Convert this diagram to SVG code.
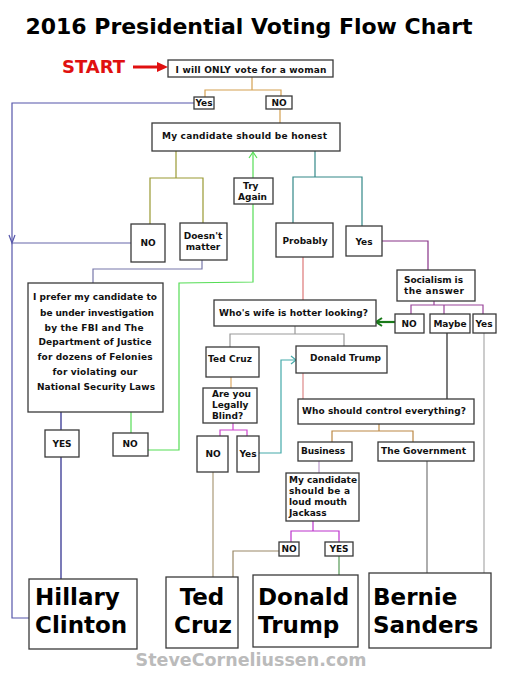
<svg xmlns="http://www.w3.org/2000/svg" width="506" height="673" viewBox="0 0 506 673">
<style>
.b{fill:#fff;stroke:#3a3a3a;stroke-width:1.3}
.t{font-family:"DejaVu Sans","Liberation Sans",sans-serif;font-weight:bold;font-size:9px;fill:#111}
.m{text-anchor:middle}
.big{font-family:"DejaVu Sans","Liberation Sans",sans-serif;font-weight:bold;font-size:23px;fill:#000}
.c line,.c polyline{fill:none;stroke-width:1.2}
</style>
<rect width="506" height="673" fill="#fff"/>
<text x="249" y="34" text-anchor="middle" font-family="DejaVu Sans, Liberation Sans, sans-serif" font-weight="bold" font-size="22" textLength="447" lengthAdjust="spacing" fill="#000">2016 Presidential Voting Flow Chart</text>
<g id="start">
<text x="62" y="73" font-family="DejaVu Sans, Liberation Sans, sans-serif" font-weight="bold" font-size="18" fill="#e01010">START</text>
</g>
<g class="c" id="connectors">
<line x1="133" y1="67" x2="160" y2="67" stroke="#e01010" style="stroke-width:3"/>
<polygon points="157,62 168,67 157,72" fill="#e01010"/>
<polyline points="252,77 252,90" stroke="#d4a050"/>
<polyline points="205,97 205,90 281,90 281,96" stroke="#d4a050"/>
<polyline points="280,109 280,123" stroke="#d4a050"/>
<polyline points="194,103 12,103 12,618 29,618" stroke="#5555aa"/>
<polyline points="9,235 12,243 15,235" stroke="#5555aa"/>
<polyline points="131,243 12,243" stroke="#6666aa"/>
<polyline points="176,151 176,178" stroke="#999933"/>
<polyline points="150,224 150,178 203,178 203,223" stroke="#999933"/>
<polyline points="202,260 202,269 93,269 93,283" stroke="#7777aa"/>
<polyline points="61,412 61,430" stroke="#222288"/>
<polyline points="61,457 61,579" stroke="#222288"/>
<polyline points="131,412 131,433" stroke="#55dd55"/>
<polyline points="148,450 179,450 179,283 253,282 253,204" stroke="#55dd55"/>
<polyline points="253,178 253,153" stroke="#55dd55"/>
<polyline points="249,158 253,152 257,158" stroke="#55dd55"/>
<polyline points="315,151 315,177" stroke="#338888"/>
<polyline points="293,223 293,177 362,177 362,226" stroke="#338888"/>
<polyline points="382,241 428,241 428,270" stroke="#883388"/>
<polyline points="434,301 434,305" stroke="#994499"/>
<polyline points="411,314 411,305 483,305 483,314" stroke="#994499"/>
<polyline points="444,305 444,314" stroke="#994499"/>
<line x1="395" y1="322" x2="377" y2="322" stroke="#1a7a1a" style="stroke-width:2.2"/>
<polyline points="382,318 376,322 382,326" stroke="#1a7a1a" style="stroke-width:2"/>
<polyline points="303,257 303,300" stroke="#dd7777"/>
<polyline points="295,326 295,334" stroke="#999"/>
<polyline points="230,347 230,334 344,334 344,346" stroke="#999"/>
<polyline points="231,377 231,388" stroke="#ddaa66"/>
<polyline points="233,423 233,430" stroke="#cc44cc"/>
<polyline points="220,436 220,430 247,430 247,436" stroke="#cc44cc"/>
<polyline points="259,453 281,453 281,360 295,360" stroke="#44aaaa"/>
<polyline points="291,356 296,360 291,364" stroke="#44aaaa"/>
<polyline points="303,373 303,399" stroke="#dd8888"/>
<polyline points="447,333 447,399" stroke="#222"/>
<polyline points="484,333 484,573" stroke="#aaa"/>
<polyline points="379,424 379,431" stroke="#bb8844"/>
<polyline points="332,442 332,431 413,431 413,442" stroke="#bb8844"/>
<polyline points="319,461 319,473" stroke="#bb99cc"/>
<polyline points="313,521 313,531" stroke="#bb33cc"/>
<polyline points="291,542 291,531 339,531 339,542" stroke="#bb33cc"/>
<polyline points="279,551 233,551 233,577" stroke="#998866"/>
<polyline points="339,556 339,575" stroke="#559955"/>
<polyline points="213,472 213,577" stroke="#aa9977"/>
<polyline points="427,461 427,573" stroke="#777"/>
</g>
<g id="q1"><rect class="b" x="168" y="60" width="165" height="17"/><text class="t m" x="251" y="73" textLength="151" lengthAdjust="spacing">I will ONLY vote for a woman</text></g>
<g id="yes1"><rect class="b" x="194" y="97" width="20" height="12"/><text class="t m" x="204" y="106">Yes</text></g>
<g id="no1"><rect class="b" x="266" y="96" width="26" height="13"/><text class="t m" x="279" y="106">NO</text></g>
<g id="honest"><rect class="b" x="152" y="123" width="188" height="28"/><text class="t" x="162" y="139" textLength="165" lengthAdjust="spacing">My candidate  should be honest</text></g>
<g id="no2"><rect class="b" x="131" y="224" width="34" height="38"/><text class="t m" x="148" y="246">NO</text></g>
<g id="doesnt"><rect class="b" x="180" y="223" width="47" height="37"/><text class="t m" x="203" y="239">Doesn't</text><text class="t m" x="203" y="250">matter</text></g>
<g id="tryagain"><rect class="b" x="234" y="178" width="39" height="26"/><text class="t" x="243" y="189">Try</text><text class="t" x="238" y="200">Again</text></g>
<g id="probably"><rect class="b" x="276" y="223" width="57" height="34"/><text class="t m" x="305" y="244">Probably</text></g>
<g id="yes2"><rect class="b" x="346" y="226" width="36" height="30"/><text class="t m" x="364" y="245">Yes</text></g>
<g id="socialism"><rect class="b" x="397" y="270" width="78" height="31"/><text class="t" x="404" y="283" textLength="59" lengthAdjust="spacing">Socialism is</text><text class="t" x="404" y="294" textLength="60" lengthAdjust="spacing">the answer</text></g>
<g id="no3"><rect class="b" x="395" y="314" width="29" height="19"/><text class="t m" x="409" y="327">NO</text></g>
<g id="maybe"><rect class="b" x="430" y="314" width="40" height="19"/><text class="t m" x="450" y="327">Maybe</text></g>
<g id="yes3"><rect class="b" x="473" y="314" width="23" height="19"/><text class="t m" x="484" y="327">Yes</text></g>
<g id="prefer"><rect class="b" x="28" y="283" width="135" height="129"/>
<text class="t m" x="95" y="300" textLength="124" lengthAdjust="spacing">I prefer my candidate to</text>
<text class="t m" x="97" y="316" textLength="114" lengthAdjust="spacing">be under investigation</text>
<text class="t m" x="94" y="331" textLength="99" lengthAdjust="spacing">by the FBI and The</text>
<text class="t m" x="95" y="345" textLength="113" lengthAdjust="spacing">Department of Justice</text>
<text class="t m" x="95" y="360" textLength="115" lengthAdjust="spacing">for dozens of Felonies</text>
<text class="t m" x="95" y="375" textLength="85" lengthAdjust="spacing">for violating our</text>
<text class="t m" x="96" y="390" textLength="118" lengthAdjust="spacing">National Security Laws</text></g>
<g id="yes4"><rect class="b" x="45" y="430" width="34" height="27"/><text class="t m" x="62" y="447">YES</text></g>
<g id="no4"><rect class="b" x="113" y="433" width="35" height="23"/><text class="t m" x="130" y="447">NO</text></g>
<g id="wife"><rect class="b" x="214" y="300" width="162" height="26"/><text class="t" x="219" y="316" textLength="149" lengthAdjust="spacing">Who's wife is hotter looking?</text></g>
<g id="tedq"><rect class="b" x="206" y="347" width="53" height="30"/><text class="t" x="208" y="362" textLength="44" lengthAdjust="spacing">Ted Cruz</text></g>
<g id="donaldq"><rect class="b" x="296" y="346" width="91" height="27"/><text class="t" x="310" y="361" textLength="71" lengthAdjust="spacing">Donald Trump</text></g>
<g id="blind"><rect class="b" x="203" y="388" width="54" height="35"/><text class="t" x="212" y="397" textLength="39" lengthAdjust="spacing">Are you</text><text class="t" x="212" y="408">Legally</text><text class="t" x="212" y="419">Blind?</text></g>
<g id="no5"><rect class="b" x="197" y="436" width="31" height="36"/><text class="t m" x="213" y="457">NO</text></g>
<g id="yes5"><rect class="b" x="237" y="436" width="22" height="36"/><text class="t m" x="248" y="457">Yes</text></g>
<g id="control"><rect class="b" x="298" y="399" width="176" height="25"/><text class="t" x="302" y="414" textLength="164" lengthAdjust="spacing">Who should control everything?</text></g>
<g id="business"><rect class="b" x="298" y="442" width="54" height="19"/><text class="t" x="301" y="454" textLength="44" lengthAdjust="spacing">Business</text></g>
<g id="gov"><rect class="b" x="378" y="442" width="96" height="19"/><text class="t" x="381" y="454" textLength="85" lengthAdjust="spacing">The Government</text></g>
<g id="jackass"><rect class="b" x="286" y="473" width="73" height="48"/>
<text class="t" x="289" y="483" textLength="68" lengthAdjust="spacing">My candidate</text>
<text class="t" x="289" y="494" textLength="61" lengthAdjust="spacing">should be a</text>
<text class="t" x="289" y="505" textLength="58" lengthAdjust="spacing">loud mouth</text>
<text class="t" x="289" y="516">Jackass</text></g>
<g id="no6"><rect class="b" x="279" y="542" width="20" height="14"/><text class="t m" x="289" y="552">NO</text></g>
<g id="yes6"><rect class="b" x="325" y="542" width="28" height="14"/><text class="t m" x="339" y="552">YES</text></g>
<g id="hillary"><rect class="b" x="29" y="579" width="108" height="70"/><text class="big" x="35" y="605">Hillary</text><text class="big" x="35" y="633">Clinton</text></g>
<g id="cruz"><rect class="b" x="166" y="577" width="72" height="71"/><text class="big m" x="202" y="605">Ted</text><text class="big m" x="203" y="633">Cruz</text></g>
<g id="trump"><rect class="b" x="253" y="575" width="105" height="72"/><text class="big" x="258" y="605">Donald</text><text class="big" x="258" y="633">Trump</text></g>
<g id="sanders"><rect class="b" x="369" y="573" width="122" height="75"/><text class="big" x="373" y="605">Bernie</text><text class="big" x="373" y="633">Sanders</text></g>
<text x="251" y="666" text-anchor="middle" font-family="DejaVu Sans, Liberation Sans, sans-serif" font-weight="bold" font-size="17.5" fill="#bbbbbb">SteveCorneliussen.com</text>
</svg>
